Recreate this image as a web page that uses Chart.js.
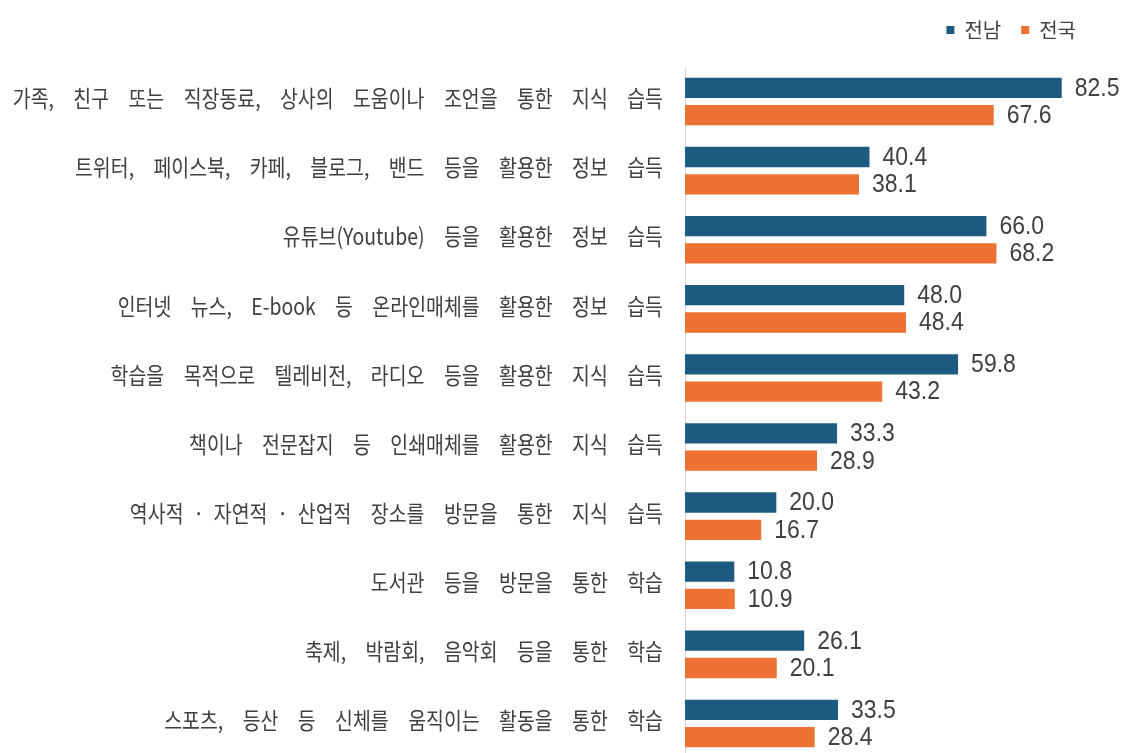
<!DOCTYPE html>
<html>
<head>
<meta charset="utf-8">
<script src="https://cdn.jsdelivr.net/npm/chart.js@4/dist/chart.umd.min.js"></script>
<style>
  html, body { margin: 0; padding: 0; background: #fff; overflow: hidden; }
  #wrap { position: relative; width: 1132px; height: 760px; }
</style>
</head>
<body>
<div id="wrap"><canvas id="chart"></canvas></div>
<script>
const categories = [
  '가족, 친구 또는 직장동료, 상사의 도움이나 조언을 통한 지식 습득',
  '트위터, 페이스북, 카페, 블로그, 밴드 등을 활용한 정보 습득',
  '유튜브(Youtube) 등을 활용한 정보 습득',
  '인터넷 뉴스, E-book 등 온라인매체를 활용한 정보 습득',
  '학습을 목적으로 텔레비전, 라디오 등을 활용한 지식 습득',
  '책이나 전문잡지 등 인쇄매체를 활용한 지식 습득',
  '역사적\u2002·\u2002자연적\u2002·\u2002산업적 장소를 방문을 통한 지식 습득',
  '도서관 등을 방문을 통한 학습',
  '축제, 박람회, 음악회 등을 통한 학습',
  '스포츠, 등산 등 신체를 움직이는 활동을 통한 학습'
];
const jeonnam = [82.5, 40.4, 66.0, 48.0, 59.8, 33.3, 20.0, 10.8, 26.1, 33.5];
const national = [67.6, 38.1, 68.2, 48.4, 43.2, 28.9, 16.7, 10.9, 20.1, 28.4];

const textColor = '#404040';
const labelFont = '"Noto Sans CJK KR", "Noto Sans", sans-serif';

// category labels: condensed gothic look with wide word gaps, like the source
const categoryLabels = {
  id: 'categoryLabels',
  afterDraw(chart) {
    const ctx = chart.ctx;
    const y = chart.scales.y;
    ctx.save();
    ctx.font = '23px ' + labelFont;
    ctx.fillStyle = textColor;
    ctx.textAlign = 'right';
    ctx.textBaseline = 'middle';
    chart.data.labels.forEach((lbl, i) => {
      ctx.save();
      ctx.translate(y.right - 22, y.getPixelForTick(i) - 3);
      ctx.scale(0.845, 1);
      ctx.wordSpacing = '17.8px';
      ctx.fillText(lbl, 0, 0);
      ctx.restore();
    });
    ctx.restore();
  }
};

// the number at the end of each bar
const valueLabels = {
  id: 'valueLabels',
  afterDatasetsDraw(chart) {
    const ctx = chart.ctx;
    ctx.save();
    ctx.font = '25px "Liberation Sans", Arial, sans-serif';
    ctx.fillStyle = textColor;
    ctx.textAlign = 'left';
    ctx.textBaseline = 'middle';
    chart.data.datasets.forEach((ds, i) => {
      chart.getDatasetMeta(i).data.forEach((bar, j) => {
        ctx.save();
        ctx.translate(bar.x + 13, bar.y + 1);
        ctx.scale(0.92, 1);
        ctx.fillText(ds.data[j].toFixed(1), 0, 0);
        ctx.restore();
      });
    });
    ctx.restore();
  }
};

// leave some room between the legend and the first bar
const legendGap = {
  id: 'legendGap',
  beforeLayout(chart) {
    const lg = chart.legend;
    if (lg && !lg._gapPatched) {
      const fit = lg.fit.bind(lg);
      lg.fit = function () { fit(); this.height += 17; };
      lg._gapPatched = true;
    }
  }
};

new Chart(document.getElementById('chart'), {
  type: 'bar',
  data: {
    labels: categories,
    datasets: [
      { label: '전남', data: jeonnam, backgroundColor: '#1c5a80' },
      { label: '전국', data: national, backgroundColor: '#ed7132' }
    ]
  },
  options: {
    indexAxis: 'y',
    responsive: true,
    maintainAspectRatio: false,
    animation: false,
    layout: { padding: { top: 0, right: 36, bottom: 2, left: 0 } },
    datasets: { bar: { barPercentage: 0.745, categoryPercentage: 0.79 } },
    scales: {
      x: { display: false, min: 0, max: 90 },
      y: {
        grid: { display: false },
        border: { display: true, color: '#d9d9d9', width: 1 },
        ticks: { display: false },
        afterFit(scale) { scale.width = 685; }
      }
    },
    plugins: {
      legend: {
        position: 'top',
        align: 'end',
        labels: {
          color: textColor,
          font: { family: labelFont, size: 20 },
          boxWidth: 8,
          boxHeight: 8,
          padding: 20
        }
      },
      tooltip: { enabled: false }
    }
  },
  plugins: [legendGap, categoryLabels, valueLabels]
});
</script>
</body>
</html>
